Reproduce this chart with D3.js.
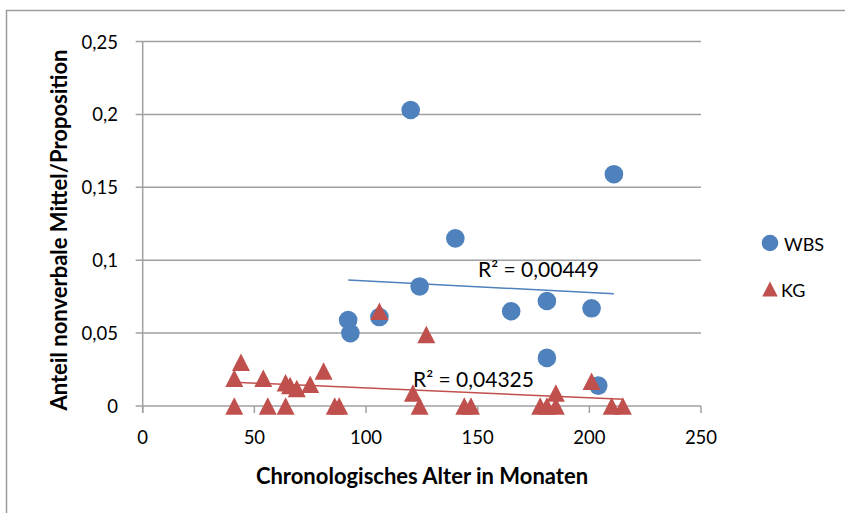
<!DOCTYPE html>
<html>
<head>
<meta charset="utf-8">
<script src="https://cdn.jsdelivr.net/npm/d3@7"></script>
<style>
  body { margin: 0; background: #fff; }
  text { font-family: Lato, "Open Sans", sans-serif; fill: #000; }
</style>
</head>
<body>
<svg id="chart" width="845" height="513"></svg>
<script>
// Williams-Beuren-Syndrom group (WBS): age in months and share of nonverbal means per proposition
const wbsAge   = [120, 211, 140, 124, 165, 181, 201, 181, 204, 92, 93, 106];
const wbsShare = [0.203, 0.159, 0.115, 0.082, 0.065, 0.072, 0.067, 0.033, 0.014, 0.059, 0.050, 0.061];

// Control group (KG)
const kgAge   = [41, 56, 64, 86, 88, 124, 144, 147, 178, 181, 185, 210, 215,
                 44, 41, 54, 64, 66, 69, 75, 81, 106, 127, 121, 185, 201];
const kgShare = [0, 0, 0, 0, 0, 0, 0, 0, 0, 0, 0, 0, 0,
                 0.030, 0.019, 0.019, 0.016, 0.014, 0.012, 0.015, 0.024, 0.065, 0.049, 0.009, 0.009, 0.017];

const seriesNames = ["WBS", "KG"];
const r2Labels = ["R² = 0,00449", "R² = 0,04325"];

const xTicks = [0, 50, 100, 150, 200, 250];
const yTicks = [0, 0.05, 0.1, 0.15, 0.2, 0.25];

const xTitle = "Chronologisches Alter in Monaten";
const yTitle = "Anteil nonverbale Mittel/Proposition";

const colors = { WBS: "#4f81bd", KG: "#c0504d" };

const de = d3.formatLocale({ decimal: ",", thousands: ".", grouping: [3], currency: ["", " €"] });
const fmtY = de.format(".2~f");

const svg = d3.select("#chart");

// outer chart frame
svg.append("rect")
  .attr("x", 6.5).attr("y", 10.5)
  .attr("width", 900).attr("height", 600)
  .attr("fill", "none").attr("stroke", "#9b9b9b").attr("stroke-width", 1.5);

const x = d3.scaleLinear().domain([0, 250]).range([142.7, 701]);
const y = d3.scaleLinear().domain([0, 0.25]).range([406, 41.5]);

const gridColor = "#a0a0a0";

// horizontal gridlines
svg.append("g").selectAll("line").data(yTicks).join("line")
  .attr("x1", x(0) - 7).attr("x2", x(250))
  .attr("y1", d => y(d)).attr("y2", d => y(d))
  .attr("stroke", gridColor).attr("stroke-width", 1.5);

// y axis line
svg.append("line")
  .attr("x1", x(0)).attr("x2", x(0))
  .attr("y1", y(0.25)).attr("y2", y(0) + 7)
  .attr("stroke", gridColor).attr("stroke-width", 1.5);

// x tick marks
svg.append("g").selectAll("line").data(xTicks).join("line")
  .attr("x1", d => x(d)).attr("x2", d => x(d))
  .attr("y1", y(0)).attr("y2", y(0) + 7)
  .attr("stroke", gridColor).attr("stroke-width", 1.5);

// x tick labels
svg.append("g").selectAll("text").data(xTicks).join("text")
  .attr("x", d => x(d)).attr("y", y(0) + 38)
  .attr("text-anchor", "middle")
  .style("font-size", "18.5px")
  .text(d => d);

// y tick labels
svg.append("g").selectAll("text").data(yTicks).join("text")
  .attr("x", 118).attr("y", d => y(d) + 7)
  .attr("text-anchor", "end")
  .style("font-size", "18.5px")
  .text(d => fmtY(d));

// axis titles
svg.append("text")
  .attr("x", 422).attr("y", 484)
  .attr("text-anchor", "middle")
  .style("font-size", "22px").style("font-weight", "bold")
  .text(xTitle);

svg.append("text")
  .attr("transform", "translate(67,230) rotate(-90)")
  .attr("text-anchor", "middle")
  .style("font-size", "22px").style("font-weight", "bold")
  .text(yTitle);

// least-squares trendline over the range of each series
function fit(xs, ys) {
  const mx = d3.mean(xs), my = d3.mean(ys);
  let sxy = 0, sxx = 0;
  xs.forEach((v, i) => { sxy += (v - mx) * (ys[i] - my); sxx += (v - mx) ** 2; });
  const b = sxy / sxx, a = my - b * mx;
  const [x0, x1] = d3.extent(xs);
  return [[x0, a + b * x0], [x1, a + b * x1]];
}

const line = d3.line().x(d => x(d[0])).y(d => y(d[1]));

svg.append("path").attr("d", line(fit(wbsAge, wbsShare)))
  .attr("fill", "none").attr("stroke", colors.WBS).attr("stroke-width", 1.5);
svg.append("path").attr("d", line(fit(kgAge, kgShare)))
  .attr("fill", "none").attr("stroke", colors.KG).attr("stroke-width", 1.5);

// markers
const wbsPts = wbsAge.map((a, i) => [a, wbsShare[i]]);
const kgPts = kgAge.map((a, i) => [a, kgShare[i]]);

svg.append("g").selectAll("circle").data(wbsPts).join("circle")
  .attr("cx", d => x(d[0])).attr("cy", d => y(d[1]))
  .attr("r", 9.3).attr("fill", colors.WBS);

const tri = (w, h) => `M0,${-h / 2}L${w / 2},${h / 2}L${-w / 2},${h / 2}Z`;

svg.append("g").selectAll("path").data(kgPts).join("path")
  .attr("transform", d => `translate(${x(d[0])},${y(d[1])})`)
  .attr("d", tri(18, 17.5)).attr("fill", colors.KG);

// R² labels
svg.append("text").attr("x", 478).attr("y", 277)
  .style("font-size", "21px").text(r2Labels[0]);
svg.append("text").attr("x", 413).attr("y", 387)
  .style("font-size", "21px").text(r2Labels[1]);

// legend
const legend = svg.append("g");
legend.append("circle").attr("cx", 770).attr("cy", 243).attr("r", 8.3).attr("fill", colors.WBS);
legend.append("path").attr("transform", "translate(770,289)").attr("d", tri(15.5, 15)).attr("fill", colors.KG);
legend.append("text").attr("x", 784).attr("y", 251).style("font-size", "18px").text(seriesNames[0]);
legend.append("text").attr("x", 781).attr("y", 297).style("font-size", "18px").text(seriesNames[1]);
</script>
</body>
</html>
